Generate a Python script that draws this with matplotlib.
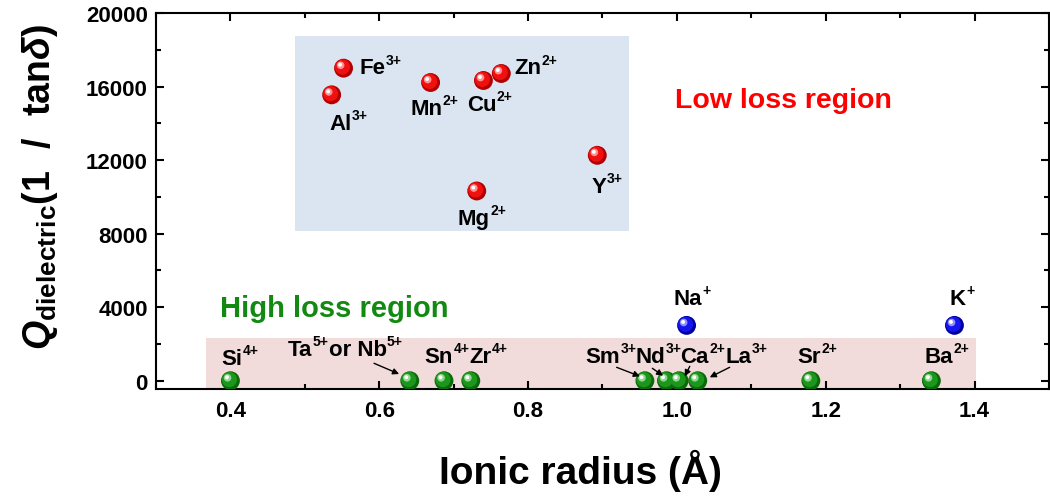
import matplotlib
matplotlib.use("Agg")
import matplotlib.pyplot as plt
from matplotlib.patches import Rectangle
from matplotlib.transforms import offset_copy
from matplotlib.ticker import MultipleLocator

plt.rcParams['font.family'] = ['Liberation Sans', 'DejaVu Sans']
plt.rcParams['font.weight'] = 'bold'
plt.rcParams['mathtext.fontset'] = 'custom'
plt.rcParams['mathtext.rm'] = 'Liberation Sans:bold'
plt.rcParams['mathtext.bf'] = 'Liberation Sans:bold'
plt.rcParams['mathtext.it'] = 'Liberation Sans:italic'
plt.rcParams['mathtext.bfit'] = 'Liberation Sans:italic:bold'

# low loss ions (red); labels written as element|charge
low_labels = ['Al|3+', 'Fe|3+', 'Mn|2+', 'Mg|2+', 'Cu|2+', 'Zn|2+', 'Y|3+']
low_radius = [0.536, 0.552, 0.669, 0.731, 0.740, 0.764, 0.893]
low_q = [15550, 17000, 16220, 10320, 16330, 16710, 12260]

# alkali ions (blue)
alk_labels = ['Na|+', 'K|+']
alk_radius = [1.013, 1.373]
alk_q = [3010, 3010]

# high loss ions (green)
high_labels = ['Si|4+', 'Ta|5+|or Nb|5+', 'Sn|4+', 'Zr|4+', 'Sm|3+',
               'Nd|3+', 'Ca|2+', 'La|3+', 'Sr|2+', 'Ba|2+']
high_radius = [0.400, 0.641, 0.687, 0.723, 0.957, 0.986, 1.003, 1.028, 1.180, 1.342]
high_q = [0, 0, 0, 0, 0, 0, 0, 0, 0, 0]

# text placement (left, baseline) in data units
low_text_pos = [(0.533, 13717), (0.573, 16714), (0.642, 14534), (0.7055, 8540),
                (0.718, 14714), (0.7815, 16714), (0.8856, 10267)]
alk_text_pos = [(0.995, 4180), (1.367, 4180)]
high_text_pos = [(0.3877, 910), (0.477, 1400), (0.661, 1003), (0.7212, 1003),
                 (0.8776, 1003), (0.9445, 1003), (1.005, 1003), (1.065, 1003),
                 (1.1625, 1003), (1.333, 1003)]
# arrows: index into high lists -> (start, end)
arrows = {1: ((0.593, 948), (0.6267, 365)),
          4: ((0.919, 730), (0.9503, 240)),
          5: ((0.967, 676), (0.9815, 272)),
          6: ((1.0173, 785), (1.0106, 240)),
          7: ((1.0709, 730), (1.0441, 185))}

fig = plt.figure(figsize=(10.5, 5.02), dpi=100)
ax = fig.add_axes([0.1486, 0.2231, 0.8504, 0.749])

ax.set_xlim(0.3, 1.5)
ax.set_ylim(-450, 20000)

# shaded regions
ax.add_patch(Rectangle((0.487, 8170), 0.449, 10580, facecolor='#dbe5f1', edgecolor='none', zorder=0))
ax.add_patch(Rectangle((0.3676, -450), 1.0337, 2777, facecolor='#f2dcdb', edgecolor='none', zorder=0))


def spheres(x, y, dark, mid, light):
    ax.scatter(x, y, s=185, c=dark, edgecolors='none', zorder=3)
    t1 = offset_copy(ax.transData, fig=fig, x=-0.8, y=0.8, units='points')
    ax.scatter(x, y, s=120, c=mid, edgecolors='none', zorder=4, transform=t1)
    t2 = offset_copy(ax.transData, fig=fig, x=-2.1, y=2.1, units='points')
    ax.scatter(x, y, s=30, c=light, edgecolors='none', zorder=5, transform=t2)
    t3 = offset_copy(ax.transData, fig=fig, x=-2.5, y=2.5, units='points')
    ax.scatter(x, y, s=8, c='white', edgecolors='none', zorder=6, transform=t3)


def ion_label(x, y, text, size=16, sup_size=10):
    parts = text.split('|')
    base = ax.text(x, y, parts[0], fontsize=size, fontweight='bold',
                   ha='left', va='baseline', zorder=7)
    last = base
    for k, p in enumerate(parts[1:], start=1):
        if k % 2 == 1:
            last = ax.annotate(p, xy=(1, 1), xycoords=base, xytext=(0.3, 3.5),
                               textcoords='offset points', fontsize=sup_size,
                               fontweight='bold', ha='left', va='top', zorder=7)
        else:
            base = ax.annotate(p, xy=(1, 0), xycoords=(last, base), fontsize=size,
                               fontweight='bold', ha='left', va='bottom', zorder=7)
            last = base


spheres(low_radius, low_q, '#b00000', '#f01010', '#ff9090')
spheres(alk_radius, alk_q, '#0000a0', '#1515f0', '#9090ff')
spheres(high_radius, high_q, '#0a6a0a', '#1c961c', '#90d890')

for lab, (tx, ty) in zip(low_labels, low_text_pos):
    ion_label(tx, ty, lab)
for lab, (tx, ty) in zip(alk_labels, alk_text_pos):
    ion_label(tx, ty, lab)
for lab, (tx, ty) in zip(high_labels, high_text_pos):
    ion_label(tx, ty, lab)

for i, (start, end) in arrows.items():
    ax.annotate('', xy=end, xytext=start,
                arrowprops=dict(arrowstyle='-|>', color='black', lw=1.0,
                                mutation_scale=9, shrinkA=0, shrinkB=0), zorder=7)

ax.text(0.997, 14900, 'Low loss region', color='#ff0000', fontsize=20.5, fontweight='bold')
ax.text(0.3853, 3540, 'High loss region', color='#128a12', fontsize=21, fontweight='bold')

ax.xaxis.set_major_locator(MultipleLocator(0.2))
ax.xaxis.set_minor_locator(MultipleLocator(0.1))
ax.yaxis.set_major_locator(MultipleLocator(4000))
ax.yaxis.set_minor_locator(MultipleLocator(2000))
ax.tick_params(which='both', direction='in', top=True, right=True, width=1.5)
ax.tick_params(which='major', length=6)
ax.tick_params(which='minor', length=3.5)
ax.tick_params(axis='x', labelsize=16, pad=8)
ax.tick_params(axis='y', labelsize=16, pad=6)
ax.set_xticks([0.4, 0.6, 0.8, 1.0, 1.2, 1.4])
ax.set_xticklabels(['0.4', '0.6', '0.8', '1.0', '1.2', '1.4'])
for s in ax.spines.values():
    s.set_linewidth(1.5)

ax.set_xlabel('Ionic radius (Å)', fontsize=28, fontweight='bold')
ax.xaxis.set_label_coords(0.475, -0.16)
ax.set_ylabel('$\\mathbfit{Q}_{\\mathbf{dielectric}}\\mathbf{(1\\ \\ /\\ \\ tan}\\mathit{\\delta}\\mathbf{)}$',
              fontsize=27)
ax.yaxis.set_label_coords(-0.108, 0.54)

fig.savefig('out.png', dpi=100)
